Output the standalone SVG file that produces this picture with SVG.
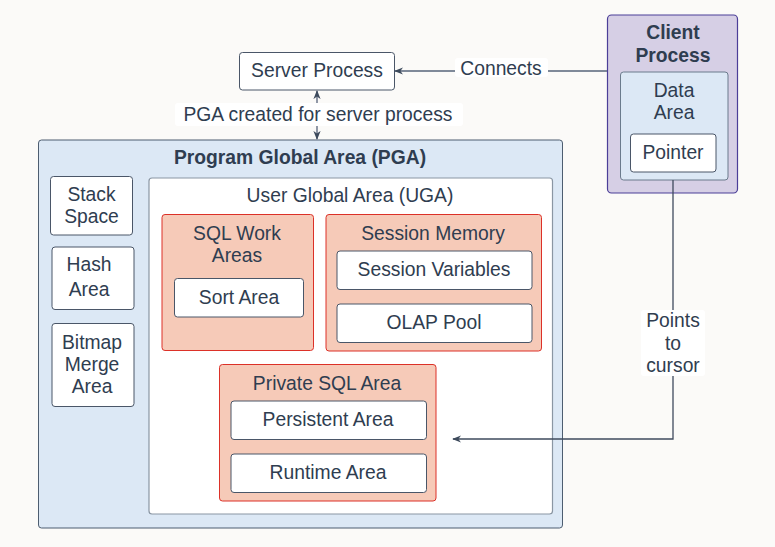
<svg xmlns="http://www.w3.org/2000/svg" width="775" height="547" viewBox="0 0 775 547">
<style>
text{font-family:"Liberation Sans",Arial,sans-serif;font-size:19.3px;fill:#2f3d50;text-anchor:middle}
.b{font-weight:bold}
.white{fill:#ffffff;stroke:#4a5668;stroke-width:1}
.salmon{fill:#f6cab8;stroke:#dc3128;stroke-width:1}
.blue{fill:#dce8f5;stroke:#4d5d70;stroke-width:1}
.lbl{fill:#ffffff;stroke:none}
.edge{fill:none;stroke:#56637a;stroke-width:1.3}
</style>
<defs>
<marker id="ah" viewBox="0 0 10 10" refX="9" refY="5" markerWidth="9" markerHeight="9" markerUnits="userSpaceOnUse" orient="auto-start-reverse">
<path d="M0,1 L10,5 L0,9 L3,5 z" fill="#3d4a5c"/>
</marker>
</defs>
<rect x="0" y="0" width="775" height="547" fill="#fbfaf8"/>

<g id="server-process">
<rect class="white" x="239.5" y="52.5" width="155" height="37.5" rx="3"/>
<text x="317" y="77">Server Process</text>
</g>

<g id="client-process">
<rect x="607.5" y="15" width="130" height="178" rx="4" fill="#d6cfe5" stroke="#4b3e98" stroke-width="1.2"/>
<text class="b" x="673" y="39">Client</text>
<text class="b" x="673" y="61.5">Process</text>
<g id="data-area">
<rect x="620.5" y="72" width="107.5" height="108" rx="3" fill="#dce8f5" stroke="#6b7b8c" stroke-width="1"/>
<text x="674" y="96.5">Data</text>
<text x="674" y="119">Area</text>
</g>
<g id="pointer">
<rect class="white" x="630.5" y="134" width="85.5" height="38" rx="3"/>
<text x="673" y="159">Pointer</text>
</g>
</g>

<g id="pga">
<rect class="blue" x="38.5" y="140" width="524" height="388" rx="3"/>
<text class="b" x="300" y="164">Program Global Area (PGA)</text>
</g>

<g id="stack-space">
<rect class="white" x="50.5" y="176.5" width="82" height="58.5" rx="3"/>
<text x="91.5" y="200.5">Stack</text>
<text x="91.5" y="223">Space</text>
</g>

<g id="hash-area">
<rect class="white" x="52" y="247" width="82" height="62.5" rx="3"/>
<text x="89" y="271">Hash</text>
<text x="89" y="295.5">Area</text>
</g>

<g id="bitmap-merge-area">
<rect class="white" x="52" y="323.5" width="82" height="83" rx="3"/>
<text x="92" y="348.5">Bitmap</text>
<text x="92" y="370.5">Merge</text>
<text x="92" y="393">Area</text>
</g>

<g id="uga">
<rect x="149" y="178" width="403.5" height="336" rx="3" fill="#ffffff" stroke="#8a96a3" stroke-width="1.2"/>
<text x="350" y="202">User Global Area (UGA)</text>
</g>

<g id="sql-work-areas">
<rect class="salmon" x="162" y="214.5" width="151.5" height="136" rx="3"/>
<text x="237" y="239.5">SQL Work</text>
<text x="237" y="261.5">Areas</text>
<g id="sort-area">
<rect class="white" x="174.5" y="278.5" width="129" height="38.5" rx="3"/>
<text x="239" y="303.5">Sort Area</text>
</g>
</g>

<g id="session-memory">
<rect class="salmon" x="326" y="214.5" width="215.5" height="136.5" rx="3"/>
<text x="433" y="240">Session Memory</text>
<g id="session-variables">
<rect class="white" x="337" y="251" width="195" height="38.5" rx="3"/>
<text x="434" y="276">Session Variables</text>
</g>
<g id="olap-pool">
<rect class="white" x="337" y="304" width="195" height="38.5" rx="3"/>
<text x="434" y="329">OLAP Pool</text>
</g>
</g>

<g id="private-sql-area">
<rect class="salmon" x="219.5" y="364.5" width="216.5" height="136.5" rx="3"/>
<text x="327" y="390">Private SQL Area</text>
<g id="persistent-area">
<rect class="white" x="231" y="401" width="195.5" height="38.5" rx="3"/>
<text x="328" y="426">Persistent Area</text>
</g>
<g id="runtime-area">
<rect class="white" x="231" y="454" width="195.5" height="38.5" rx="3"/>
<text x="328" y="479">Runtime Area</text>
</g>
</g>

<g id="connectors">
<path class="edge" d="M607,71 L395,71" marker-end="url(#ah)"/>
<rect class="lbl" x="455" y="58" width="93" height="19" rx="3"/>
<text x="501" y="75">Connects</text>
<path class="edge" d="M317,91 L317,139" marker-start="url(#ah)" marker-end="url(#ah)"/>
<rect class="lbl" x="175" y="103" width="288" height="23" rx="3"/>
<text x="318" y="121">PGA created for server process</text>
<path class="edge" style="stroke:#3f4b5e" d="M673,180 L673,439 L453,439" marker-end="url(#ah)"/>
<rect class="lbl" x="641" y="310" width="64" height="66" rx="3"/>
<text x="673" y="327">Points</text>
<text x="673" y="349.5">to</text>
<text x="673" y="372">cursor</text>
</g>
</svg>
